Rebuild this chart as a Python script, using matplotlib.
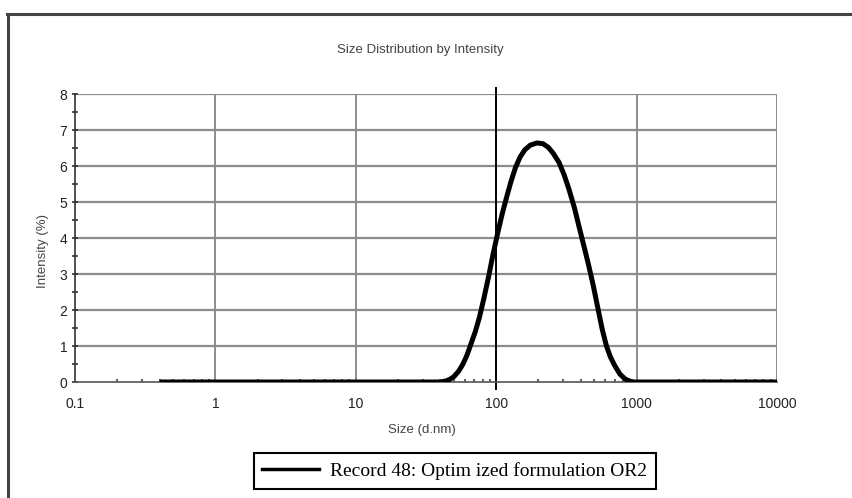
import matplotlib
matplotlib.use("Agg")
import matplotlib.pyplot as plt
from matplotlib.lines import Line2D
from matplotlib.ticker import FixedLocator, LogLocator, NullFormatter

# ---- data ----
size_nm = [0.4, 40, 44, 47, 50, 54, 58, 62, 66, 71, 76, 82, 88, 95, 102, 110,
           118, 127, 137, 148, 160, 175, 195, 215, 235, 255, 280, 305, 330,
           360, 390, 420, 455, 490, 530, 570, 610, 650, 700, 760, 830, 900,
           960, 10000]
intensity = [0.0, 0.0, 0.03, 0.08, 0.15, 0.3, 0.5, 0.75, 1.05, 1.4, 1.8, 2.35,
             2.9, 3.55, 4.1, 4.65, 5.1, 5.55, 5.95, 6.25, 6.45, 6.58, 6.64,
             6.62, 6.52, 6.35, 6.1, 5.75, 5.35, 4.85, 4.3, 3.8, 3.25, 2.7,
             2.05, 1.45, 1.0, 0.7, 0.45, 0.22, 0.08, 0.02, 0.0, 0.0]
x_ticks = [0.1, 1, 10, 100, 1000, 10000]
x_ticklabels = ["0.1", "1", "10", "100", "1000", "10000"]
y_ticks = [0, 1, 2, 3, 4, 5, 6, 7, 8]
series_label = "Record 48: Optim ized formulation OR2"

W, H = 853, 498
fig = plt.figure(figsize=(W / 100, H / 100), dpi=100)
fig.patch.set_facecolor("white")

left, right, top, bottom = 75, 777, 94, 382
ax = fig.add_axes([left / W, 1 - bottom / H, (right - left) / W, (bottom - top) / H])

ax.set_xscale("log")
ax.set_xlim(0.1, 10000)
ax.set_ylim(0, 8)

grid_c = "#8c8c8c"
for y in y_ticks[1:]:
    ax.axhline(y, color=grid_c, lw=1.6, zorder=1)
for x in x_ticks[1:]:
    if x == 100:
        continue
    ax.axvline(x, color=grid_c, lw=1.4, zorder=1)
ax.axvline(100, color="black", lw=1.4, ymin=-0.025, ymax=1.02, clip_on=False, zorder=2)

ax.plot(size_nm, intensity, color="black", lw=3.6, solid_capstyle="butt",
        solid_joinstyle="round", zorder=3, label=series_label)

for s in ["top", "right"]:
    ax.spines[s].set_visible(False)
ax.spines["left"].set_color("#333333")
ax.spines["bottom"].set_color("#555555")
ax.spines["left"].set_linewidth(1.2)
ax.spines["bottom"].set_linewidth(1.2)

tick_font = dict(family="Liberation Sans", size=10, color="#222222")
ax.xaxis.set_major_locator(FixedLocator(x_ticks))
ax.set_xticklabels(x_ticklabels, **tick_font)
ax.xaxis.set_minor_locator(LogLocator(base=10, subs=range(2, 10)))
ax.xaxis.set_minor_formatter(NullFormatter())
ax.tick_params(axis="x", which="major", length=0, pad=11)
ax.tick_params(axis="x", which="minor", direction="in", length=2, width=1.5, color="#666666")

ax.yaxis.set_major_locator(FixedLocator(y_ticks))
ax.set_yticklabels([str(v) for v in y_ticks], **tick_font)
ax.yaxis.set_minor_locator(FixedLocator([v + 0.5 for v in y_ticks[:-1]]))
ax.tick_params(axis="y", which="major", direction="inout", length=5, width=1.2, color="#333333", pad=3)
ax.tick_params(axis="y", which="minor", direction="inout", length=5, width=1.2, color="#333333")

lab_font = dict(family="Liberation Sans", size=9.5, color="#444444")
fig.text(420 / W, 1 - 50 / H, "Size Distribution by Intensity", ha="center", va="center", **lab_font)
fig.text(422 / W, 1 - 430 / H, "Size (d.nm)", ha="center", va="center", **lab_font)
fig.text(43 / W, 1 - 251 / H, "Intensity (%)", ha="center", va="center", rotation=90, **lab_font)

# legend box
leg = fig.legend(handles=[Line2D([0], [0], color="black", lw=2.5)], labels=[series_label],
                 loc="center", bbox_to_anchor=(455 / W, 1 - 471 / H),
                 frameon=True, fancybox=False, edgecolor="black", framealpha=1,
                 handlelength=2.9, handletextpad=0.6, borderpad=0.45,
                 prop=dict(family="Liberation Serif", size=14))
leg.get_frame().set_linewidth(1.5)

# outer frame
fig.add_artist(Line2D([8 / W, 8 / W], [0, 1 - 14 / H], color="#444444", lw=2.2,
                      transform=fig.transFigure))
fig.add_artist(Line2D([7 / W, 1], [1 - 14 / H, 1 - 14 / H], color="#444444", lw=2.2,
                      transform=fig.transFigure))

fig.savefig("out.png", dpi=100)
